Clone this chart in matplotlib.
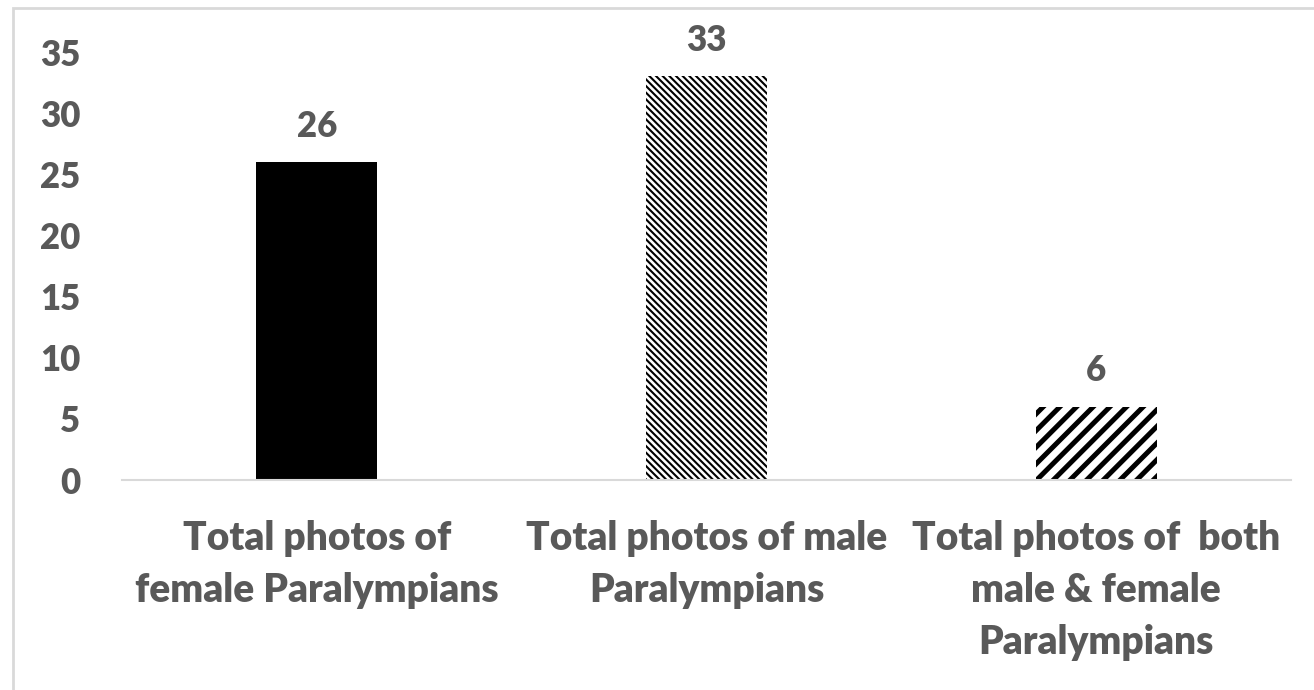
import matplotlib
matplotlib.use("Agg")
import matplotlib.pyplot as plt
from matplotlib.patches import Rectangle

categories = ["Total photos of\nfemale Paralympians",
              "Total photos of male\nParalympians",
              "Total photos of  both\nmale & female\nParalympians"]
values = [26, 33, 6]
yticks = [0, 5, 10, 15, 20, 25, 30, 35]

plt.rcParams['font.family'] = ['Lato', 'DejaVu Sans']
txt = '#595959'

fig = plt.figure(figsize=(13.14, 6.9), dpi=100)
ax = fig.add_axes([122/1314, 1-480/690, (1291-122)/1314, (480-52)/690])

x = list(range(len(values)))
hatches = [None, '\\\\\\\\\\', '//']
hlw = [1.0, 1.5, 3.6]
for i, (xi, v) in enumerate(zip(x, values)):
    with plt.rc_context({'hatch.linewidth': hlw[i], 'hatch.color': 'black'}):
        b = ax.bar(xi, v, width=0.31, color='black' if i == 0 else 'white',
                   edgecolor='black', hatch=hatches[i], linewidth=0)
        for p in b:
            if hasattr(p, 'set_hatch_linewidth'):
                p.set_hatch_linewidth(hlw[i])
    ax.annotate(str(v), (xi, v), xytext=(0, 14), textcoords='offset points',
                ha='center', va='bottom', fontsize=25, fontweight='heavy', color=txt)

ax.set_xlim(-0.5, 2.5)
ax.set_ylim(0, 35)
ax.set_yticks(yticks)
ax.set_yticklabels([str(t) for t in yticks], fontsize=25, fontweight='heavy', color=txt)
ax.set_xticks(x)
ax.set_xticklabels(categories, fontsize=28, fontweight='heavy', color=txt, linespacing=1.5)
ax.tick_params(axis='y', length=0, pad=30)
ax.tick_params(axis='x', length=0, pad=29)
for s in ['top', 'right', 'left']:
    ax.spines[s].set_visible(False)
ax.spines['bottom'].set_color('#d9d9d9')
ax.spines['bottom'].set_linewidth(1.5)

fig.patches.append(Rectangle((13/1314, -0.1), 1.2, 1 - 8/690 + 0.1, transform=fig.transFigure,
                             fill=False, edgecolor='#d9d9d9', linewidth=2))

fig.savefig('out.png', dpi=100)
